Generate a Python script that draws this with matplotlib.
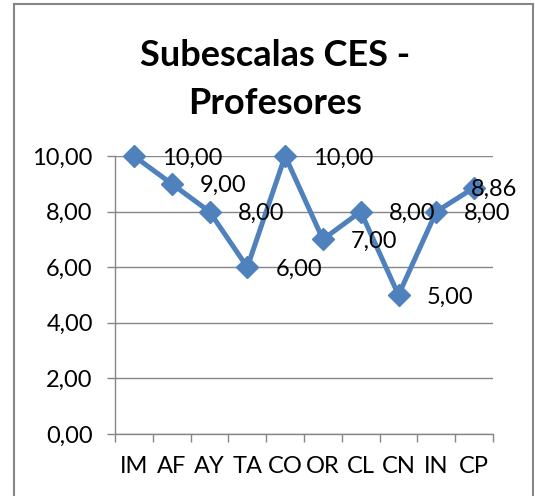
import matplotlib
matplotlib.use('Agg')
import matplotlib.pyplot as plt
from matplotlib.patches import Rectangle

plt.rcParams['font.family'] = ['Lato', 'DejaVu Sans']

# Subescalas CES - Profesores
categorias = ['IM', 'AF', 'AY', 'TA', 'CO', 'OR', 'CL', 'CN', 'IN', 'CP']
valores = [10.00, 9.00, 8.00, 6.00, 10.00, 7.00, 8.00, 5.00, 8.00, 8.86]
y_ticks = [0, 2, 4, 6, 8, 10]

azul = '#4F81BD'
gris = '#868686'

fig = plt.figure(figsize=(5.35, 4.96), dpi=100)
ax = fig.add_axes([115 / 535, 1 - 434 / 496, 378 / 535, 278 / 496])

x = list(range(len(categorias)))
ax.plot(x, valores, color=azul, lw=3.6, marker='D', ms=11.5, mec=azul, mfc=azul, zorder=3, clip_on=False)

# data labels to the right of each point (last one pulled back like Excel does)
for i, v in enumerate(valores):
    dx = 28 if i < len(valores) - 1 else -3
    ax.annotate(f'{v:.2f}'.replace('.', ','), (i, v), xytext=(dx, -2),
                textcoords='offset pixels', ha='left', va='center', fontsize=17, zorder=4)

ax.set_xlim(-0.5, len(categorias) - 0.5)
ax.set_ylim(0, 10)
ax.set_yticks(y_ticks)
ax.set_yticklabels([f'{t:.2f}'.replace('.', ',') for t in y_ticks], fontsize=17)
ax.set_xticks(x)
ax.set_xticklabels(categorias, fontsize=17)
ax.set_xticks([i - 0.5 for i in range(len(categorias) + 1)], minor=True)
ax.tick_params(axis='x', which='major', length=0, pad=16)
ax.tick_params(axis='x', which='minor', length=6, color=gris, width=1)
ax.tick_params(axis='y', length=6, color=gris, width=1, pad=10)

ax.grid(axis='y', color=gris, lw=1)
ax.set_axisbelow(True)
for s in ['top', 'right']:
    ax.spines[s].set_visible(False)
for s in ['left', 'bottom']:
    ax.spines[s].set_color(gris)
    ax.spines[s].set_linewidth(1)

fig.text(275 / 535, 1 - 56 / 496, 'Subescalas CES -', ha='center', va='center',
         fontsize=26, fontweight='bold')
fig.text(275 / 535, 1 - 104 / 496, 'Profesores', ha='center', va='center',
         fontsize=26, fontweight='bold')

# chart border
fig.patches.append(Rectangle((14 / 535, -0.05), (533 - 14) / 535, 1 - 4 / 496 + 0.05,
                             transform=fig.transFigure, fill=False, ec=gris, lw=1.5))

fig.savefig('out.png', dpi=100)
